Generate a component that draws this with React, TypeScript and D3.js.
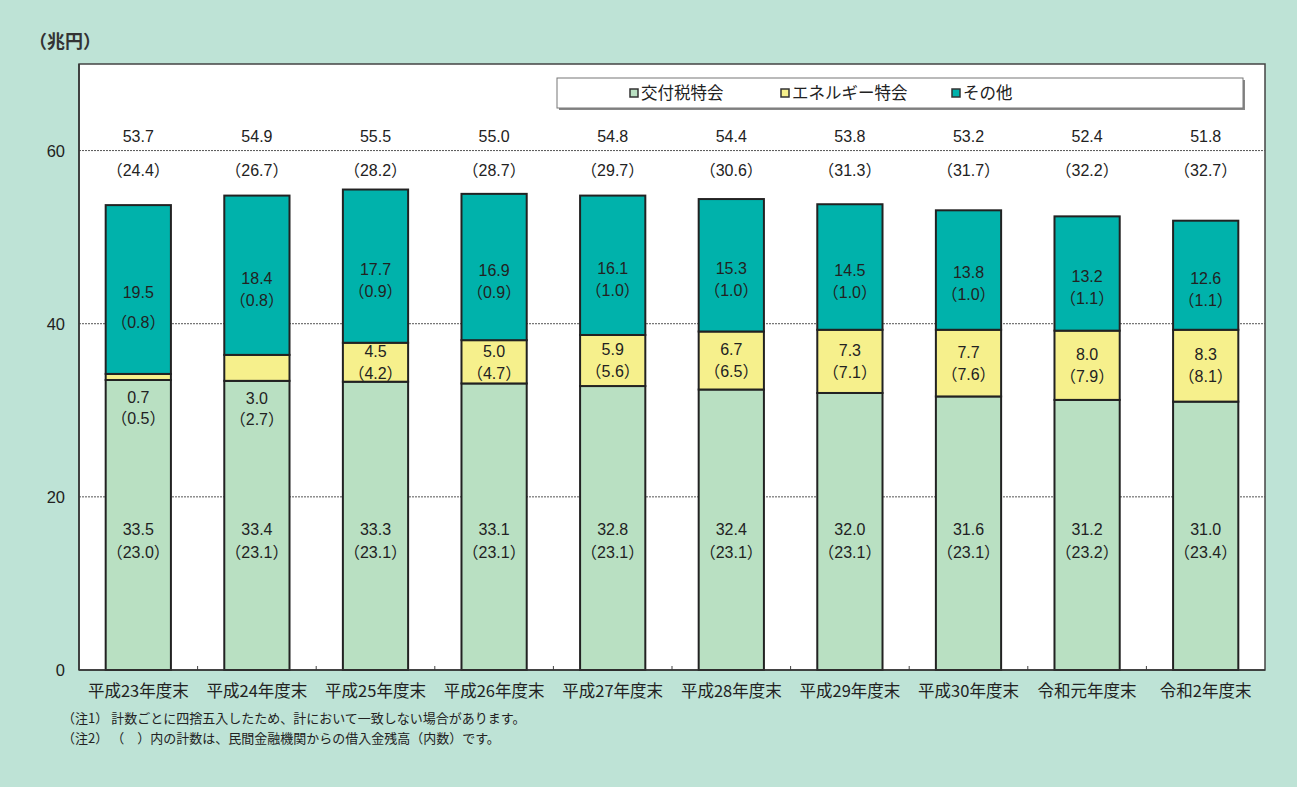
import * as d3 from "d3";
import React from "react";

// 年度末ごとの借入金残高（兆円）
const categories = [
  "平成23年度末", "平成24年度末", "平成25年度末", "平成26年度末", "平成27年度末",
  "平成28年度末", "平成29年度末", "平成30年度末", "令和元年度末", "令和2年度末",
];
const seriesNames = ["交付税特会", "エネルギー特会", "その他"];
const kofuzei = [33.5, 33.4, 33.3, 33.1, 32.8, 32.4, 32.0, 31.6, 31.2, 31.0];
const energy = [0.7, 3.0, 4.5, 5.0, 5.9, 6.7, 7.3, 7.7, 8.0, 8.3];
const other = [19.5, 18.4, 17.7, 16.9, 16.1, 15.3, 14.5, 13.8, 13.2, 12.6];
const totals = [53.7, 54.9, 55.5, 55.0, 54.8, 54.4, 53.8, 53.2, 52.4, 51.8];
// （ ）内：民間金融機関からの借入金残高
const kofuzeiPrivate = [23.0, 23.1, 23.1, 23.1, 23.1, 23.1, 23.1, 23.1, 23.2, 23.4];
const energyPrivate = [0.5, 2.7, 4.2, 4.7, 5.6, 6.5, 7.1, 7.6, 7.9, 8.1];
const otherPrivate = [0.8, 0.8, 0.9, 0.9, 1.0, 1.0, 1.0, 1.0, 1.1, 1.1];
const totalsPrivate = [24.4, 26.7, 28.2, 28.7, 29.7, 30.6, 31.3, 31.7, 32.2, 32.7];
const yTicks = [0, 20, 40, 60];
const notes = [
  "（注1） 計数ごとに四捨五入したため、計において一致しない場合があります。",
  "（注2） （　）内の計数は、民間金融機関からの借入金残高（内数）です。",
];

const W = 1297;
const H = 787;
const margin = { top: 64, right: 32, bottom: 117, left: 79 };
const colors = ["#b9e0c2", "#f6f08c", "#00b2ab"];
const bg = "#bee3d6";
const font = "'Liberation Sans', 'Noto Sans CJK JP', sans-serif";
const jpFont = "'Noto Sans CJK JP', sans-serif";

const fmt = (v: number) => v.toFixed(1);

const App: React.FC = () => {
  const plotW = W - margin.left - margin.right;
  const plotH = H - margin.top - margin.bottom;
  const x = d3
    .scaleBand()
    .domain(categories)
    .range([0, plotW])
    .paddingInner(0.45)
    .paddingOuter(0.225);
  const y = d3.scaleLinear().domain([0, 70]).range([plotH, 0]);
  const step = x.step();

  const rows = categories.map((c, i) => ({ c, vals: [kofuzei[i], energy[i], other[i]] }));
  const stack = d3
    .stack<any>()
    .keys([0, 1, 2] as any)
    .value((d: any, k: any) => d.vals[k])(rows as any);

  return (
    <svg width={W} height={H} style={{ position: "absolute", left: 0, top: 0, display: "block" }}>
      <rect width={W} height={H} fill={bg} />
      {/* 単位 */}
      <text x={29} y={48} fontFamily={jpFont} fontSize={18} fontWeight="bold" fill="#333">
        （兆円）
      </text>
      <g transform={`translate(${margin.left},${margin.top})`}>
        <rect width={plotW} height={plotH} fill="#fff" stroke="#444" strokeWidth={1.5} />
        {yTicks.filter((t) => t > 0).map((t) => (
          <line key={t} x1={0} x2={plotW} y1={y(t)} y2={y(t)} stroke="#555" strokeDasharray="2,1" strokeWidth={1} />
        ))}
        {yTicks.map((t) => (
          <text key={t} x={-14} y={y(t)} dy="0.36em" textAnchor="end" fontFamily={font} fontSize={16.5} fill="#222">
            {t}
          </text>
        ))}
        {/* x軸の目盛り */}
        {categories.slice(1).map((c, i) => (
          <line key={c} x1={(i + 1) * step} x2={(i + 1) * step} y1={plotH} y2={plotH - 4} stroke="#444" />
        ))}
        {/* 積み上げ棒 */}
        {stack.map((s, si) => (
          <g key={si}>
            {s.map((d, i) => (
              <rect
                key={i}
                x={x(categories[i])}
                y={y(d[1])}
                width={x.bandwidth()}
                height={y(d[0]) - y(d[1])}
                fill={colors[si]}
                stroke="#222"
                strokeWidth={2}
              />
            ))}
          </g>
        ))}
        <line x1={0} x2={plotW} y1={plotH} y2={plotH} stroke="#333" strokeWidth={1.5} />
        <line x1={0} x2={0} y1={0} y2={plotH} stroke="#333" strokeWidth={1.5} />
        {/* ラベル */}
        {categories.map((c, i) => {
          const cx = (x(c) || 0) + x.bandwidth() / 2;
          const eTop = y(kofuzei[i] + energy[i]);
          const eBot = y(kofuzei[i]);
          const eMid = (eTop + eBot) / 2;
          const small = energy[i] < 4;
          const oMid = (y(totals[i]) + eTop) / 2;
          const labels: [number, string][] = [
            [72, fmt(totals[i])],
            [106, `（${fmt(totalsPrivate[i])}）`],
            [y(16.3), fmt(kofuzei[i])],
            [y(13.6), `（${fmt(kofuzeiPrivate[i])}）`],
            [small ? eBot + 17 : eMid - 11, fmt(energy[i])],
            [small ? eBot + 38 : eMid + 11, `（${fmt(energyPrivate[i])}）`],
            [oMid + 3, fmt(other[i])],
            [oMid + (i === 0 ? 33 : 25), `（${fmt(otherPrivate[i])}）`],
          ];
          return (
            <g key={c}>
              {labels.map(([ly, t], k) => (
                <text key={k} x={cx} y={ly} dy="0.36em" textAnchor="middle" fontFamily={font} fontSize={16} fill="#222">
                  {t}
                </text>
              ))}
              <text x={cx} y={plotH + 21} dy="0.36em" textAnchor="middle" fontFamily={jpFont} fontSize={16.5} fill="#222">
                {c}
              </text>
            </g>
          );
        })}
      </g>
      {/* 凡例 */}
      <rect x={559} y={80} width={686} height={30} fill="#888" />
      <rect x={557} y={78} width={686} height={30} fill="#fff" stroke="#777" strokeWidth={1} />
      {seriesNames.map((n, i) => {
        const lx = [630, 781, 952][i];
        return (
          <g key={n}>
            <rect x={lx} y={89} width={8} height={8} fill={colors[i]} stroke="#333" strokeWidth={1.5} />
            <text x={lx + 11} y={93} dy="0.36em" fontFamily={jpFont} fontSize={16.5} fill="#222">
              {n}
            </text>
          </g>
        );
      })}
      {notes.map((n, i) => (
        <text key={i} x={62} y={718 + i * 20} dy="0.36em" fontFamily={jpFont} fontSize={13} fill="#222">
          {n}
        </text>
      ))}
    </svg>
  );
};

export default App;
